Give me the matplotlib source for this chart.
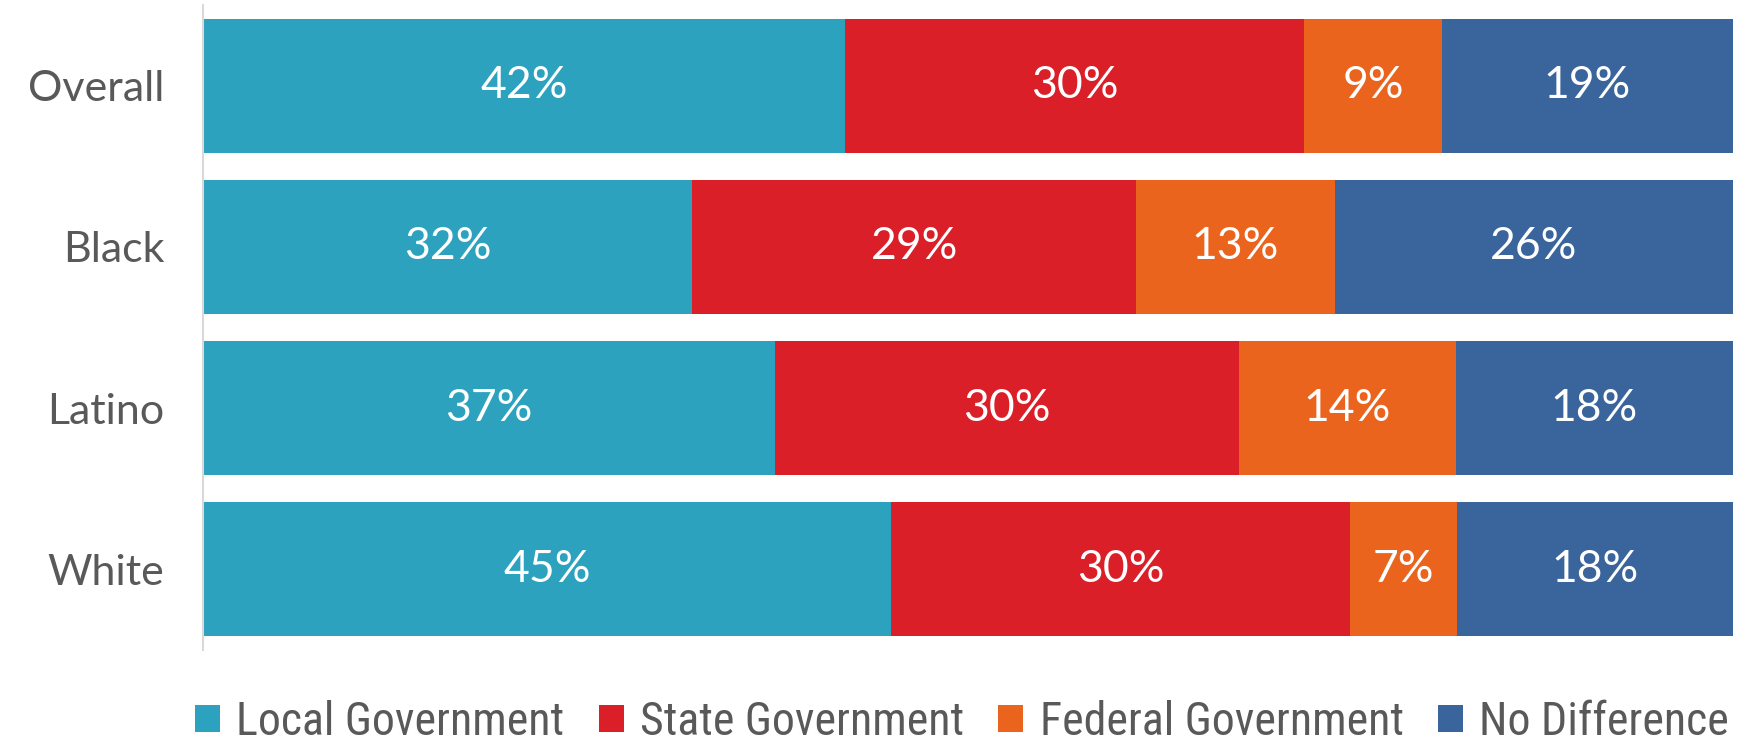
import matplotlib
matplotlib.use("Agg")
import matplotlib.pyplot as plt
from matplotlib.patches import Patch
from matplotlib import font_manager

groups = ["Overall", "Black", "Latino", "White"]
series = ["Local Government", "State Government", "Federal Government", "No Difference"]
local_gov = [42, 32, 37.4, 45]
state_gov = [30, 29, 30.3, 30]
federal_gov = [9, 13, 14.2, 7]
no_diff = [19, 26, 18.1, 18]
colors = ["#2DA2BF", "#DA1F28", "#EB641E", "#3A649C"]


def pick_font(names, default="DejaVu Sans"):
    for n in names:
        try:
            font_manager.findfont(n, fallback_to_default=False)
            return n
        except Exception:
            pass
    return default


main_font = pick_font(["Lato", "Open Sans"])
narrow_font = pick_font(["Liberation Sans Narrow", "Roboto Condensed", "Lato"])
grey = "#595959"

fig = plt.figure(figsize=(17.52, 7.47), dpi=100)
ax = fig.add_axes([0.1159, 0.130, 0.873, 0.863])

left = [0.0] * len(groups)
for vals, name, col in zip([local_gov, state_gov, federal_gov, no_diff], series, colors):
    bars = ax.barh(groups, vals, left=left, height=0.83, color=col, label=name)
    for b, v in zip(bars, vals):
        ax.text(b.get_x() + b.get_width() / 2, b.get_y() + b.get_height() / 2,
                f"{round(v):d}%", ha="center", va="center", color="white",
                fontsize=32, family=main_font)
    left = [l + v for l, v in zip(left, vals)]

ax.set_xlim(0, 100)
ax.set_ylim(3.5, -0.5)
ax.set_xticks([])
for s in ["top", "right", "bottom"]:
    ax.spines[s].set_visible(False)
ax.spines["left"].set_color("#D9D9D9")
ax.spines["left"].set_linewidth(1.5)
ax.tick_params(axis="y", length=0, pad=28, labelsize=31, labelcolor=grey)
for lbl in ax.get_yticklabels():
    lbl.set_family(main_font)

handles = [Patch(facecolor=c, label=n) for c, n in zip(colors, series)]
leg = fig.legend(handles=handles, loc="center", bbox_to_anchor=(0.549, 0.034), ncol=4,
                 frameon=False, handlelength=0.55, handleheight=0.55, handletextpad=0.35,
                 columnspacing=0.75, borderpad=0, prop={"family": narrow_font, "size": 33})
for t in leg.get_texts():
    t.set_color(grey)

fig.savefig("out.png", dpi=100)
